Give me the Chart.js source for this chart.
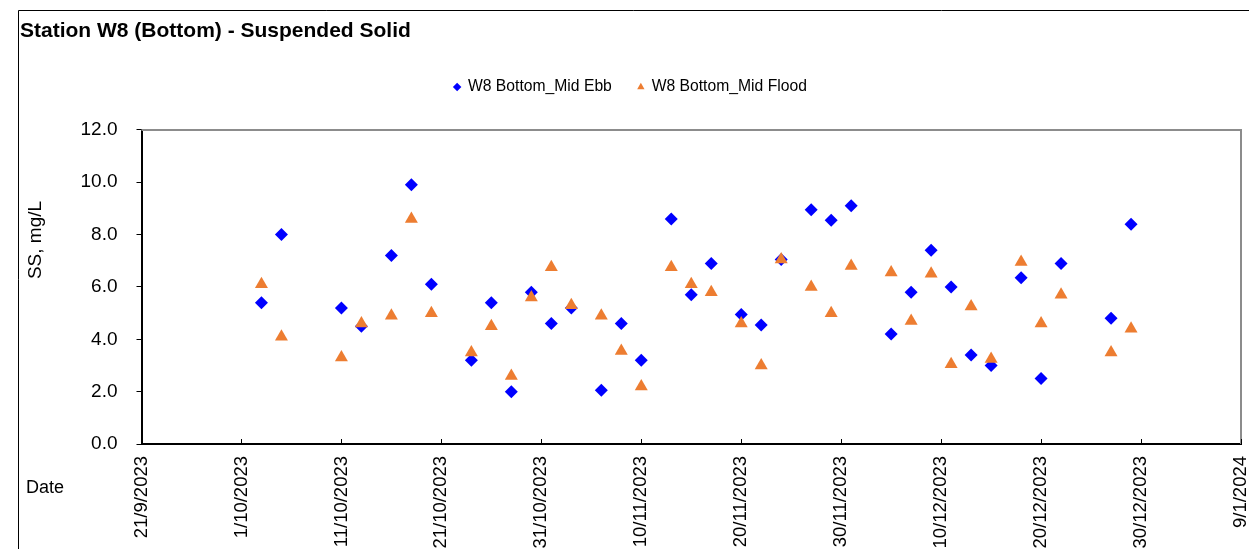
<!DOCTYPE html>
<html>
<head>
<meta charset="utf-8">
<script src="https://cdn.jsdelivr.net/npm/chart.js@4.4.0/dist/chart.umd.min.js"></script>
<style>
  html, body { margin: 0; padding: 0; background: #fff; }
  #wrap { position: relative; width: 1249px; height: 549px; }
</style>
</head>
<body>
<div id="wrap"><canvas id="chart" width="1249" height="549"></canvas></div>
<script>
// sampling dates (d/m/yyyy)
const sampleDates = [
  "3/10/2023", "5/10/2023", "11/10/2023", "13/10/2023", "16/10/2023", "18/10/2023",
  "20/10/2023", "24/10/2023", "26/10/2023", "28/10/2023", "30/10/2023", "1/11/2023",
  "3/11/2023", "6/11/2023", "8/11/2023", "10/11/2023", "13/11/2023", "15/11/2023",
  "17/11/2023", "20/11/2023", "22/11/2023", "24/11/2023", "27/11/2023", "29/11/2023",
  "1/12/2023", "5/12/2023", "7/12/2023", "9/12/2023", "11/12/2023", "13/12/2023",
  "15/12/2023", "18/12/2023", "20/12/2023", "22/12/2023", "27/12/2023", "29/12/2023"
];
const midEbb = [
  5.4, 8.0, 5.2, 4.5, 7.2, 9.9, 6.1, 3.2, 5.4, 2.0, 5.8, 4.6,
  5.2, 2.05, 4.6, 3.2, 8.6, 5.7, 6.9, 4.95, 4.55, 7.05, 8.95, 8.55,
  9.1, 4.2, 5.8, 7.4, 6.0, 3.4, 3.0, 6.35, 2.5, 6.9, 4.8, 8.4
];
const midFlood = [
  6.1, 4.1, 3.3, 4.6, 4.9, 8.6, 5.0, 3.5, 4.5, 2.6, 5.6, 6.75,
  5.3, 4.9, 3.55, 2.2, 6.75, 6.1, 5.8, 4.6, 3.0, 7.05, 6.0, 5.0,
  6.8, 6.55, 4.7, 6.5, 3.05, 5.25, 3.25, 6.95, 4.6, 5.7, 3.5, 4.4
];
const seriesNames = ["W8 Bottom_Mid Ebb", "W8 Bottom_Mid Flood"];
const axisStart = "21/9/2023";
const axisEnd = "9/1/2024";
const dayStep = 10;
const yMin = 0, yMax = 12, yStep = 2;

const DAY = 86400000;
function toUTC(str) {
  const [d, m, y] = str.split('/').map(Number);
  return Date.UTC(y, m - 1, d);
}
const startMs = toUTC(axisStart);
function dayOffset(str) {
  return (toUTC(str) - startMs) / DAY;
}
function dayLabel(v) {
  const dt = new Date(startMs + v * DAY);
  return dt.getUTCDate() + '/' + (dt.getUTCMonth() + 1) + '/' + dt.getUTCFullYear();
}

const fontFam = 'Arial, "Liberation Sans", sans-serif';

// frame, inward x ticks, plot border and the free text labels
const extras = {
  id: 'extras',
  beforeDraw(chart) {
    const ctx = chart.ctx;
    ctx.save();
    ctx.fillStyle = '#fff';
    ctx.fillRect(0, 0, chart.width, chart.height);
    ctx.strokeStyle = '#000';
    ctx.lineWidth = 1;
    ctx.beginPath();
    ctx.moveTo(18.5, chart.height);
    ctx.lineTo(18.5, 10.5);
    ctx.lineTo(chart.width, 10.5);
    ctx.stroke();
    ctx.restore();
  },
  afterDraw(chart) {
    const ctx = chart.ctx;
    const a = chart.chartArea;
    const xs = chart.scales.x;
    ctx.save();
    ctx.strokeStyle = '#8c8c8c';
    ctx.lineWidth = 2;
    ctx.beginPath();
    ctx.moveTo(a.left, a.top);
    ctx.lineTo(a.right, a.top);
    ctx.lineTo(a.right, a.bottom);
    ctx.stroke();
    ctx.strokeStyle = '#000';
    ctx.lineWidth = 1;
    ctx.beginPath();
    xs.ticks.forEach(t => {
      const px = Math.round(xs.getPixelForValue(t.value)) + 0.5;
      ctx.moveTo(px, a.bottom);
      ctx.lineTo(px, a.bottom - 5);
    });
    ctx.stroke();
    ctx.fillStyle = '#000';
    ctx.font = '18px ' + fontFam;
    ctx.textBaseline = 'middle';
    ctx.textAlign = 'left';
    ctx.fillText('Date', 26, 488);
    ctx.font = '19px ' + fontFam;
    ctx.translate(36, 240);
    ctx.rotate(-Math.PI / 2);
    ctx.textAlign = 'center';
    ctx.fillText('SS, mg/L', 0, 0);
    ctx.restore();
  }
};

const ctx = document.getElementById('chart').getContext('2d');
new Chart(ctx, {
  type: 'scatter',
  data: {
    datasets: [
      {
        label: seriesNames[0],
        data: sampleDates.map((d, i) => ({ x: dayOffset(d), y: midEbb[i] })),
        pointStyle: 'rectRot',
        pointRadius: 6.5,
        pointHoverRadius: 6.5,
        backgroundColor: '#0000ff',
        borderColor: '#0000ff',
        borderWidth: 0,
        order: 1
      },
      {
        label: seriesNames[1],
        data: sampleDates.map((d, i) => ({ x: dayOffset(d), y: midFlood[i] })),
        pointStyle: 'triangle',
        pointRadius: 7.5,
        pointHoverRadius: 7.5,
        backgroundColor: '#ed7d31',
        borderColor: '#ed7d31',
        borderWidth: 0,
        order: 0
      }
    ]
  },
  options: {
    responsive: false,
    animation: false,
    layout: { padding: { left: 20, right: 8, top: 0, bottom: 0 } },
    plugins: {
      title: {
        display: true,
        text: 'Station W8 (Bottom) - Suspended Solid',
        align: 'start',
        color: '#000',
        font: { family: fontFam, size: 21, weight: 'bold' },
        padding: { top: 19, bottom: 9 }
      },
      // empty subtitle below the legend, used as a spacer above the plot
      subtitle: {
        display: true,
        text: ' ',
        position: 'top',
        weight: 500,
        font: { size: 25, lineHeight: 1 },
        padding: 0
      },
      legend: {
        position: 'top',
        labels: {
          usePointStyle: true,
          boxWidth: 6,
          boxHeight: 6,
          padding: 26,
          color: '#000',
          font: { family: fontFam, size: 15.7 },
          sort: (a, b) => a.datasetIndex - b.datasetIndex
        }
      },
      tooltip: { enabled: false }
    },
    scales: {
      x: {
        type: 'linear',
        min: 0,
        max: dayOffset(axisEnd),
        afterFit(scale) {
          scale.height = 105;
          scale.paddingLeft = 0;
          scale.paddingRight = 0;
        },
        ticks: {
          stepSize: dayStep,
          minRotation: 90,
          maxRotation: 90,
          autoSkip: false,
          padding: 4,
          color: '#000',
          font: { family: fontFam, size: 18.5 },
          callback: v => dayLabel(v)
        },
        grid: { display: false },
        border: { color: '#000', width: 2 }
      },
      y: {
        min: yMin,
        max: yMax,
        afterFit(scale) { scale.width = 121.5; },
        ticks: {
          stepSize: yStep,
          padding: 19,
          color: '#000',
          font: { family: fontFam, size: 19 },
          callback: v => v.toFixed(1)
        },
        grid: { drawOnChartArea: false, tickLength: 5, color: '#000', tickColor: '#000' },
        border: { color: '#000', width: 2 }
      }
    }
  },
  plugins: [extras]
});
</script>
</body>
</html>
